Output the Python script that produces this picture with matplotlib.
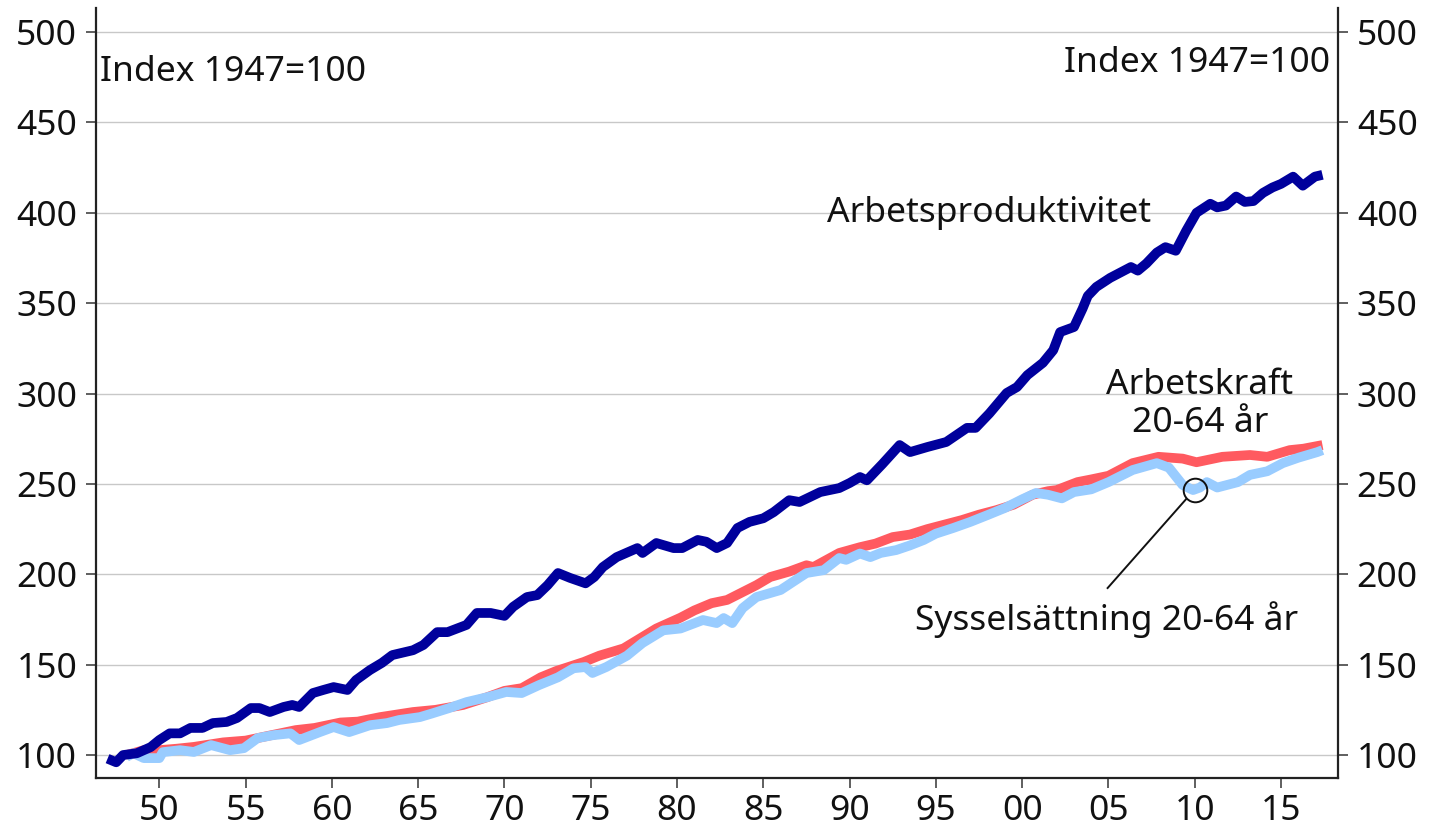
import matplotlib
matplotlib.use("Agg")
import matplotlib.pyplot as plt

plt.rcParams['font.family'] = ['Noto Sans', 'DejaVu Sans']

# ---- data ----
prod_x = [1947.0, 1947.5, 1947.9, 1948.7, 1949.5, 1950.0, 1950.6, 1951.2, 1951.8, 1952.5,
          1953.1, 1953.9, 1954.5, 1955.3, 1955.8, 1956.4, 1957.2, 1957.7, 1958.1, 1958.9,
          1959.5, 1960.1, 1960.9, 1961.4, 1962.2, 1962.9, 1963.5, 1964.7, 1965.3, 1966.1,
          1966.7, 1967.8, 1968.4, 1969.2, 1970.0, 1970.5, 1971.3, 1971.9, 1972.5, 1973.1,
          1973.8, 1974.7, 1975.2, 1975.7, 1976.5, 1977.7, 1978.0, 1978.8, 1979.8, 1980.3,
          1981.2, 1981.7, 1982.3, 1982.9, 1983.5, 1984.2, 1985.0, 1985.6, 1986.5, 1987.1,
          1988.3, 1989.4, 1990.0, 1990.6, 1991.0, 1991.9, 1992.9, 1993.5, 1994.5, 1995.6,
          1996.8, 1997.3, 1998.1, 1999.1, 1999.7, 2000.3, 2001.2, 2001.8, 2002.2, 2003.0,
          2003.5, 2003.8, 2004.3, 2005.1, 2005.7, 2006.3, 2006.7, 2007.2, 2007.8, 2008.3,
          2008.9, 2009.5, 2010.1, 2010.9, 2011.3, 2011.8, 2012.4, 2012.9, 2013.4, 2013.95,
          2014.5, 2015.0, 2015.7, 2016.26, 2016.96, 2017.4]
prod_y = [98, 96, 100, 101, 104.4, 108.3, 112, 112, 115, 115,
          117.7, 118.3, 120.5, 126, 126, 123.8, 126.6, 127.7, 126.6, 134.3,
          136, 137.6, 136, 141.5, 147, 151, 155.3, 158, 160.9, 168,
          168, 172, 178.6, 178.6, 177, 182, 187.4, 188.5, 194, 200.7,
          198, 195, 198.5, 204, 209.5, 214.5, 211.8, 217.3, 214.5, 214.5,
          219, 218, 214.5, 217.3, 225.6, 229, 231, 234.4, 241, 240,
          245.5, 247.7, 250.5, 253.8, 252, 261, 271.5, 267.6, 270.4, 273.2,
          281, 281, 289, 300.3, 303.6, 310.2, 317, 324, 334, 336.8,
          347, 354, 359, 364, 367, 370, 368, 372, 378, 381,
          379, 390, 400, 405, 403, 404, 409, 406, 406.5, 411,
          414, 416, 420, 415, 420, 421]

lab_x = [1948.1, 1949.1, 1950.0, 1951.0, 1952.0, 1953.7, 1955.0, 1956.0, 1957.9, 1959.0,
         1960.5, 1961.5, 1962.8, 1964.7, 1966.0, 1967.6, 1969.0, 1970.0, 1971.0, 1972.1,
         1973.0, 1974.6, 1975.5, 1976.9, 1978.8, 1980.2, 1981.0, 1982.0, 1982.9, 1984.6,
         1985.4, 1986.5, 1987.5, 1987.9, 1989.4, 1990.6, 1991.5, 1992.5, 1993.5, 1994.5,
         1995.5, 1996.5, 1997.5, 1998.5, 1999.5, 2000.6, 2001.5, 2002.0, 2003.2, 2004.0,
         2005.0, 2006.4, 2007.9, 2009.3, 2010.1, 2011.6, 2013.2, 2014.2, 2015.5, 2016.3,
         2017.4]
lab_y = [100, 102.7, 102.7, 103.5, 104.5, 107, 108, 110, 113.8, 115,
         118, 118.5, 121, 123.8, 125, 127.7, 132, 135.5, 137, 143,
         146.5, 151.5, 155, 159, 170, 176, 180, 184, 185.8, 194,
         198.5, 201.5, 205, 204, 211.8, 215, 217, 220.6, 222, 225,
         227.5, 230, 233, 235.5, 238.5, 244, 246, 246.6, 251, 252.5,
         254.5, 261.5, 265, 264, 262, 265, 266, 265, 268.7, 269.5,
         271.5]

emp_x = [1948.1, 1948.5, 1949.1, 1950.0, 1950.2, 1951.2, 1952.0, 1953.0, 1954.1, 1954.9,
         1955.7, 1956.6, 1957.6, 1958.1, 1959.3, 1960.1, 1961.0, 1962.2, 1963.2, 1963.9,
         1965.1, 1965.8, 1966.8, 1967.8, 1969.0, 1970.1, 1971.0, 1972.0, 1973.1, 1974.0,
         1974.7, 1975.1, 1975.9, 1977.1, 1978.0, 1979.2, 1980.2, 1981.5, 1982.3, 1982.7,
         1983.2, 1983.8, 1984.6, 1986.0, 1986.7, 1987.5, 1988.5, 1989.4, 1989.8, 1990.6,
         1991.2, 1991.8, 1992.7, 1993.5, 1994.3, 1995.0, 1996.0, 1997.0, 1998.0, 1999.0,
         2000.0, 2000.8, 2001.5, 2002.3, 2003.0, 2004.0, 2005.0, 2006.4, 2007.8, 2008.5,
         2009.0, 2009.3, 2009.9, 2010.3, 2010.7, 2011.3, 2012.5, 2013.2, 2014.2, 2015.1,
         2016.0, 2017.1, 2017.4]
emp_y = [99, 101, 98.3, 98.3, 101.6, 102.7, 101.7, 105.5, 102.7, 103.8,
         109.4, 111, 112, 108.3, 112.7, 115.5, 112.7, 116.5, 117.7, 119.4,
         121, 123, 126, 129.3, 132, 134.9, 134.3, 138.7, 143, 148,
         148.7, 145.4, 148.7, 155, 162, 169, 170, 174.7, 173, 175.8,
         173, 181.3, 187.4, 191.3, 195.7, 200.7, 202.3, 209, 208, 211.5,
         209.5, 211.8, 213.4, 216, 219, 222.5, 225.6, 229, 232.8, 236.7,
         241.5, 245, 244, 242, 245.5, 247, 251, 257.7, 261.5, 259,
         253, 249.4, 246.6, 248, 251, 248, 251, 255, 257, 261.5,
         264.5, 267.6, 268.7]

xticks = [1950, 1955, 1960, 1965, 1970, 1975, 1980, 1985, 1990, 1995, 2000, 2005, 2010, 2015]
xtick_labels = ["50", "55", "60", "65", "70", "75", "80", "85", "90", "95", "00", "05", "10", "15"]
yticks = [100, 150, 200, 250, 300, 350, 400, 450, 500]

# ---- figure ----
fig = plt.figure(figsize=(14.29, 8.32), dpi=100)
ax = fig.add_axes([96/1429, 1 - 778/832, (1338 - 96)/1429, (778 - 8)/832])

ax.set_xlim(1946.33, 2018.3)
ax.set_ylim(87.3, 513.3)

ax.grid(axis='y', color='#c8c8c8', linewidth=1.0)
ax.set_axisbelow(True)

ax.plot(lab_x, lab_y, color='#ff5a60', linewidth=7, solid_capstyle='butt',
        solid_joinstyle='round', zorder=3)
ax.plot(emp_x, emp_y, color='#99ccff', linewidth=7, solid_capstyle='butt',
        solid_joinstyle='round', zorder=4)
ax.plot(prod_x, prod_y, color='#00009c', linewidth=7, solid_capstyle='butt',
        solid_joinstyle='round', zorder=5)

ax.set_xticks(xticks)
ax.set_xticklabels(xtick_labels)
ax.set_yticks(yticks)

ax.spines['top'].set_visible(False)
for s in ('left', 'right', 'bottom'):
    ax.spines[s].set_linewidth(1.6)
    ax.spines[s].set_color('#222222')

ax.tick_params(axis='both', which='both', direction='out', length=7.5, width=1.2,
               color='#444444', labelsize=25.5, labelcolor='#111111')
ax.tick_params(axis='y', left=True, right=True, labelleft=True, labelright=True, pad=6)
ax.tick_params(axis='x', pad=4)

txt = dict(fontsize=25.5, color='#111111')
ax.text(0.003, 0.917, "Index 1947=100", transform=ax.transAxes, ha='left', va='center', **txt)
ax.text(0.9936, 0.9286, "Index 1947=100", transform=ax.transAxes, ha='right', va='center', **txt)

ax.text(1998.1, 399.9, "Arbetsproduktivitet", ha='center', va='center', **txt)
ax.text(2010.3, 294.2, "Arbetskraft\n20-64 år", ha='center', va='center',
        linespacing=1.15, **txt)
ax.text(2004.9, 174.7, "Sysselsättning 20-64 år", ha='center', va='center', **txt)

# annotation circle and connector
ax.plot([2010.0], [246.6], marker='o', markersize=17, markerfacecolor='none',
        markeredgecolor='#111111', markeredgewidth=1.4, zorder=6)
ax.plot([2004.95, 2009.5], [192.4, 241.6], color='#111111', linewidth=1.4, zorder=6)

fig.savefig("out.png", dpi=100)
